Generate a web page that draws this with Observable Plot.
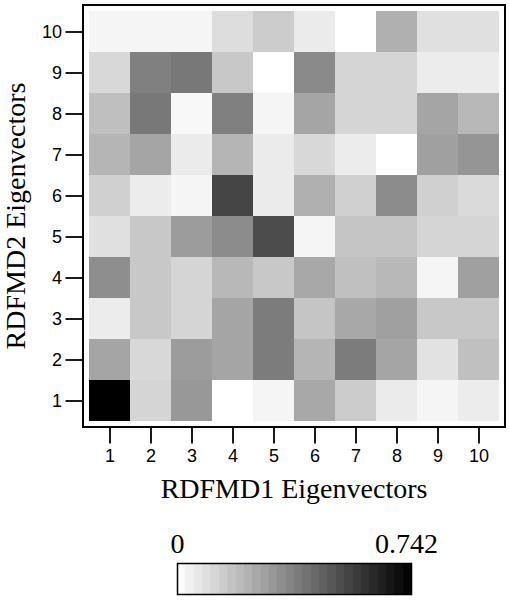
<!DOCTYPE html>
<html><head><meta charset="utf-8">
<script src="https://cdn.jsdelivr.net/npm/d3@7"></script>
<script src="https://cdn.jsdelivr.net/npm/@observablehq/plot@0.6"></script>
<style>body{margin:0;background:#fff}#chart svg{display:block}</style>
</head><body><div id="chart"></div>
<script>
const xEigen = [1, 2, 3, 4, 5, 6, 7, 8, 9, 10];
const yEigen = [1, 2, 3, 4, 5, 6, 7, 8, 9, 10];
const xTitle = "RDFMD1 Eigenvectors";
const yTitle = "RDFMD2 Eigenvectors";
const colorMin = 0;
const colorMax = 0.742;
const legendLabels = ["0", "0.742"];

// values per RDFMD2 eigenvector (row), across RDFMD1 eigenvectors 1..10
const row1  = [0.742, 0.122, 0.300, 0.000, 0.029, 0.253, 0.148, 0.058, 0.029, 0.055];
const row2  = [0.262, 0.113, 0.288, 0.262, 0.381, 0.215, 0.381, 0.262, 0.084, 0.183];
const row3  = [0.055, 0.160, 0.122, 0.262, 0.381, 0.169, 0.253, 0.276, 0.160, 0.160];
const row4  = [0.329, 0.160, 0.122, 0.207, 0.160, 0.253, 0.183, 0.207, 0.029, 0.276];
const row5  = [0.090, 0.160, 0.288, 0.335, 0.521, 0.029, 0.169, 0.169, 0.122, 0.122];
const row6  = [0.137, 0.055, 0.029, 0.541, 0.058, 0.230, 0.137, 0.335, 0.137, 0.108];
const row7  = [0.215, 0.262, 0.058, 0.215, 0.058, 0.113, 0.055, 0.000, 0.276, 0.308];
const row8  = [0.186, 0.393, 0.020, 0.370, 0.029, 0.262, 0.122, 0.122, 0.262, 0.207];
const row9  = [0.113, 0.370, 0.393, 0.160, 0.000, 0.340, 0.122, 0.122, 0.055, 0.055];
const row10 = [0.029, 0.029, 0.029, 0.099, 0.148, 0.058, 0.000, 0.230, 0.090, 0.090];
const rows = [row1, row2, row3, row4, row5, row6, row7, row8, row9, row10];

const cells = rows.flatMap((r, i) => r.map((v, j) => ({x: xEigen[j], y: yEigen[i], v})));

const colorScale = {type: "linear", domain: [colorMin, colorMax], range: ["white", "black"]};
const serif = "'Liberation Serif', 'Times New Roman', serif";
const sans = "'Liberation Sans', Arial, sans-serif";

const main = Plot.plot({
  width: 509, height: 510,
  marginLeft: 85, marginRight: 7, marginTop: 7, marginBottom: 86,
  style: {fontFamily: sans, fontSize: "18px", color: "black", background: "white"},
  x: {type: "band", domain: xEigen, padding: 0},
  y: {type: "band", domain: [...yEigen].reverse(), padding: 0},
  color: colorScale,
  marks: [
    Plot.cell(cells, {x: "x", y: "y", fill: "v", shapeRendering: "crispEdges"}),
    Plot.frame({inset: -2.5, stroke: "black", strokeWidth: 2}),
    Plot.axisX({tickSize: 17, dy: 2.5, tickPadding: 5, strokeWidth: 1.8, label: null, fontSize: 18, fontFamily: sans}),
    Plot.axisY({tickSize: 17, dx: -2.5, tickPadding: 4, strokeWidth: 1.8, label: null, fontSize: 18, fontFamily: sans}),
    Plot.text([xTitle], {frameAnchor: "bottom", lineAnchor: "bottom", textAnchor: "middle", dy: 73, fontSize: 28, fontFamily: serif}),
    Plot.text([yTitle], {frameAnchor: "left", rotate: -90, lineAnchor: "bottom", textAnchor: "middle", dx: -61, fontSize: 28, fontFamily: serif})
  ]
});

const N = 28;
const steps = d3.range(N).map(i => ({
  x1: colorMin + i * (colorMax - colorMin) / N,
  x2: colorMin + (i + 1) * (colorMax - colorMin) / N,
  v: colorMin + (i + 0.5) * (colorMax - colorMin) / N
}));

const bar = Plot.plot({
  width: 509, height: 90,
  marginLeft: 177, marginRight: 98, marginTop: 53, marginBottom: 6,
  style: {background: "white", color: "black"},
  x: {domain: [colorMin, colorMax], axis: null},
  y: {domain: [0, 1], axis: null},
  color: colorScale,
  marks: [
    Plot.rect(steps, {x1: "x1", x2: "x2", y1: 0, y2: 1, fill: "v", shapeRendering: "crispEdges"}),
    Plot.frame({stroke: "black", strokeWidth: 1.5}),
    Plot.text([legendLabels[0]], {x: colorMin, y: 1, lineAnchor: "bottom", dy: -11, fontSize: 28, fontFamily: serif}),
    Plot.text([legendLabels[1]], {x: colorMax, y: 1, lineAnchor: "bottom", dy: -11, dx: -5, fontSize: 28, fontFamily: serif})
  ]
});

const root = document.getElementById("chart");
root.appendChild(main);
root.appendChild(bar);
</script>
</body></html>
